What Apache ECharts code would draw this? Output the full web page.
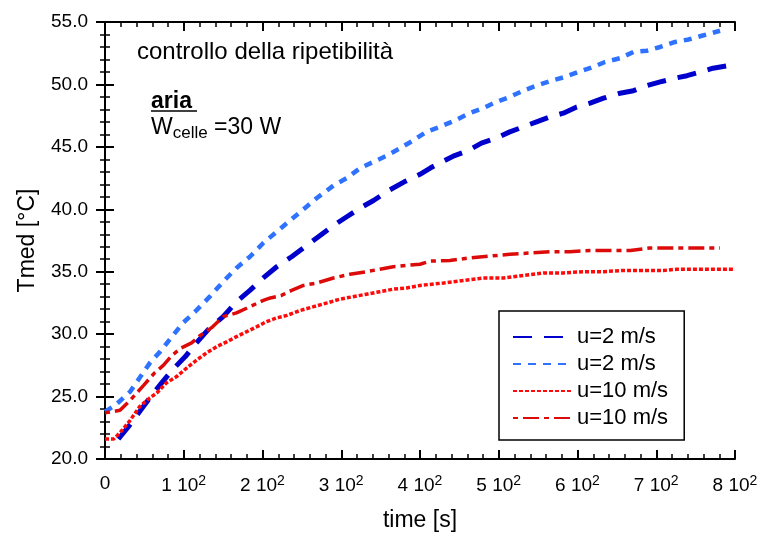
<!DOCTYPE html>
<html><head><meta charset="utf-8">
<script src="https://cdn.jsdelivr.net/npm/echarts@6/dist/echarts.min.js"></script>
<style>html,body{margin:0;padding:0;background:#fff}#c{width:761px;height:533px}</style>
</head><body><div id="c"></div>
<script>
// ---- data ----
const xTicks = [0, 100, 200, 300, 400, 500, 600, 700, 800];
const yTicks = [20, 25, 30, 35, 40, 45, 50, 55];

// u=2 m/s (dark blue, long dashes)
const tA = [17, 30, 44, 57, 72, 85, 102, 116, 133, 150, 167, 184, 201, 218, 237, 254, 271, 290, 307, 324, 341, 360, 380, 400, 413, 425, 444, 461, 478, 497, 514, 531, 548, 565, 582, 599, 616, 633, 654, 671, 688, 705, 724, 739, 756, 772, 800];
const yA = [21.6, 22.6, 23.8, 24.9, 26.1, 27.1, 28.2, 29.3, 30.5, 31.4, 32.6, 33.5, 34.5, 35.4, 36.2, 37.0, 37.8, 38.7, 39.4, 40.1, 40.7, 41.5, 42.2, 42.8, 43.3, 43.7, 44.3, 44.7, 45.3, 45.7, 46.2, 46.6, 47.0, 47.4, 47.7, 48.2, 48.5, 48.9, 49.3, 49.5, 49.9, 50.2, 50.5, 50.7, 51.0, 51.3, 51.6];

// u=2 m/s (light blue, short dashes)
const tB = [0, 13, 32, 44, 57, 70, 85, 99, 116, 133, 150, 167, 184, 201, 218, 235, 252, 269, 290, 307, 324, 341, 358, 375, 391, 408, 425, 444, 463, 480, 497, 514, 531, 548, 567, 584, 601, 620, 635, 654, 671, 688, 705, 724, 741, 758, 781];
const yB = [23.8, 24.3, 25.4, 26.5, 27.7, 28.6, 29.8, 30.9, 31.9, 33.0, 34.2, 35.3, 36.2, 37.3, 38.2, 39.1, 40.0, 40.9, 41.9, 42.5, 43.3, 43.8, 44.3, 44.9, 45.5, 46.2, 46.6, 47.1, 47.7, 48.1, 48.6, 49.0, 49.5, 49.9, 50.3, 50.6, 51.0, 51.4, 51.8, 52.1, 52.6, 52.7, 53.0, 53.4, 53.6, 53.9, 54.3];

// u=10 m/s (red, fine dots)
const tC = [0, 11, 19, 32, 44, 57, 66, 78, 91, 104, 116, 129, 142, 155, 167, 180, 193, 205, 218, 231, 248, 265, 282, 298, 315, 332, 349, 366, 383, 400, 430, 455, 480, 506, 531, 557, 582, 607, 633, 658, 684, 709, 726, 751, 777, 800];
const yC = [21.6, 21.6, 22.1, 23.1, 24.2, 24.9, 25.3, 26.1, 26.6, 27.3, 27.9, 28.5, 29.0, 29.4, 29.8, 30.2, 30.6, 31.0, 31.3, 31.5, 31.9, 32.2, 32.5, 32.8, 33.0, 33.2, 33.4, 33.6, 33.7, 33.9, 34.1, 34.3, 34.5, 34.5, 34.7, 34.9, 34.9, 35.0, 35.0, 35.1, 35.1, 35.1, 35.2, 35.2, 35.2, 35.2];

// u=10 m/s (dark red, dash-dot)
const tD = [0, 19, 32, 49, 63, 74, 85, 97, 110, 121, 135, 150, 167, 184, 201, 210, 224, 237, 252, 269, 290, 311, 332, 349, 366, 383, 400, 413, 438, 463, 489, 514, 540, 565, 590, 616, 641, 667, 692, 717, 751, 781];
const yD = [23.7, 23.9, 24.7, 25.9, 26.9, 27.5, 28.3, 28.9, 29.3, 29.9, 30.5, 31.4, 31.7, 32.2, 32.7, 32.9, 33.1, 33.5, 33.9, 34.1, 34.5, 34.8, 35.0, 35.2, 35.4, 35.5, 35.6, 35.85, 35.9, 36.1, 36.25, 36.4, 36.5, 36.6, 36.6, 36.7, 36.7, 36.7, 36.9, 36.9, 36.9, 36.9];

const names = ['u=2 m/s', 'u=2 m/s ', 'u=10 m/s', 'u=10 m/s '];
const zip = (t, y) => t.map((v, i) => [v, y[i]]);

const FONT = 'Liberation Sans';
const chart = echarts.init(document.getElementById('c'), null, {renderer: 'canvas'});

const axisCommon = {
  axisLine: {show: true, lineStyle: {color: '#000', width: 2}},
  axisTick: {show: true, inside: true, length: 9, lineStyle: {color: '#000', width: 2}},
  minorTick: {show: true, splitNumber: 5, length: 5, lineStyle: {color: '#000', width: 1.5}},
  splitLine: {show: false}
};

function mk(name, t, y, color, width, dash) {
  return {
    name, type: 'line', data: zip(t, y), showSymbol: false, symbol: 'none',
    lineStyle: {color, width, type: dash, cap: 'butt'},
    itemStyle: {color}, smooth: false, silent: true, animation: false
  };
}

chart.setOption({
  animation: false,
  grid: {left: 105, top: 22, right: 26, bottom: 74, containLabel: false, outerBoundsMode: 'none'},
  xAxis: [
    Object.assign({}, axisCommon, {
      type: 'value', min: 0, max: 800, interval: 100, position: 'bottom',
      name: 'time [s]', nameLocation: 'middle', nameGap: 50,
      nameTextStyle: {fontFamily: FONT, fontSize: 23, color: '#000'},
      axisLabel: {
        margin: 15, fontFamily: FONT, fontSize: 19, color: '#000',
        formatter: v => v === 0 ? '{a|0}' : '{a|' + (v / 100) + ' 10}{s|2}',
        rich: {a: {fontFamily: FONT, fontSize: 19, color: '#000'},
               s: {fontFamily: FONT, fontSize: 14, color: '#000', padding: [0, 0, 9, 0]}}
      }
    }),
    Object.assign({}, axisCommon, {
      type: 'value', min: 0, max: 800, interval: 100, position: 'top',
      axisLabel: {show: false}
    })
  ],
  yAxis: [
    Object.assign({}, axisCommon, {
      type: 'value', min: 20, max: 55, interval: 5, position: 'left',
      name: 'Tmed [°C]', nameLocation: 'middle', nameGap: 66, nameRotate: 90,
      nameTextStyle: {fontFamily: FONT, fontSize: 23, color: '#000'},
      axisLabel: {margin: 17, fontFamily: FONT, fontSize: 19, color: '#000',
                  formatter: v => v.toFixed(1)}
    }),
    Object.assign({}, axisCommon, {
      type: 'value', min: 20, max: 55, interval: 5, position: 'right',
      axisLabel: {show: false}
    })
  ],
  legend: {
    orient: 'vertical', left: 499, top: 311,
    padding: [15, 10, 11, 13], itemGap: 5, itemWidth: 60, itemHeight: 14,
    borderColor: '#000', borderWidth: 1.5,
    itemStyle: {opacity: 0},
    data: names,
    textStyle: {fontFamily: FONT, fontSize: 22, color: '#000', lineHeight: 22, padding: [0, 0, 0, -1]}
  },
  graphic: [
    {type: 'text', left: 137, top: 40, style: {text: 'controllo della ripetibilità', font: '24px "Liberation Sans"', fill: '#000'}},
    {type: 'text', left: 151, top: 90, style: {text: 'aria', font: 'bold 23px "Liberation Sans"', fill: '#000'}},
    {type: 'line', shape: {x1: 151, y1: 111, x2: 197, y2: 111}, style: {stroke: '#000', lineWidth: 1.5}},
    {type: 'text', left: 151, top: 116, style: {
      text: '{w|W}{c|celle}{w| =30 W}',
      rich: {w: {font: '23px "Liberation Sans"', fill: '#000'},
             c: {font: '17px "Liberation Sans"', fill: '#000', padding: [12, 0, 0, 0]}}
    }}
  ],
  series: [
    mk(names[0], tA, yA, '#0000cc', 5, [19, 12]),
    mk(names[1], tB, yB, '#2f72ff', 4.5, [8, 7]),
    mk(names[2], tC, yC, '#ff0a0a', 3.5, [4, 2]),
    mk(names[3], tD, yD, '#dd0a0a', 3.5, [5, 5, 16, 5])
  ]
});
</script></body></html>
